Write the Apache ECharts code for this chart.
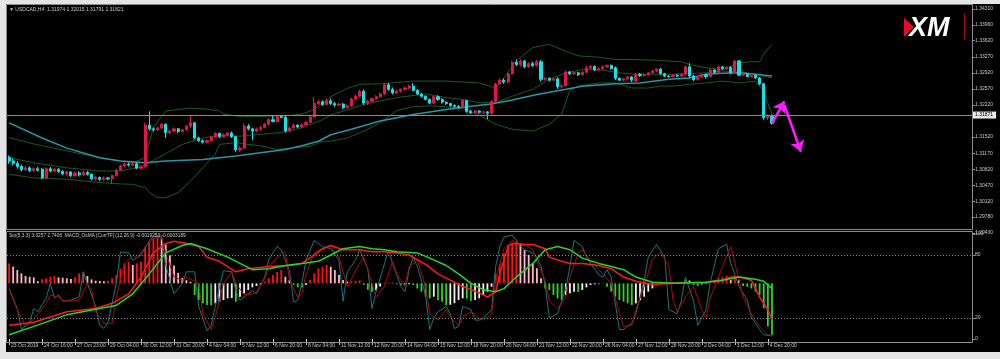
<!DOCTYPE html>
<html><head><meta charset="utf-8">
<script src="https://cdn.jsdelivr.net/npm/echarts@6/dist/echarts.min.js"></script>
<style>html,body{margin:0;padding:0;background:#000;}#c{width:1000px;height:359px;}</style>
</head><body><div id="c"></div>
<script>
// ---------- DATA ----------
const symbolTitle = '\u25BC USDCAD,H4  1.31974 1.32015 1.31791 1.31821';
const indicatorTitle = 'Sto(5,3,3) 3.0257 2.7406  MACD_OsMA [CurrTF] (12,26,9) -0.0019253 -0.0003189';
const dateLabels = ['23 Oct 2019','24 Oct 16:00','27 Oct 23:00','29 Oct 04:00','30 Oct 12:00','31 Oct 20:00','4 Nov 04:00','5 Nov 12:00','6 Nov 20:00','8 Nov 04:00','11 Nov 12:00','12 Nov 20:00','14 Nov 04:00','15 Nov 12:00','18 Nov 20:00','20 Nov 04:00','21 Nov 12:00','22 Nov 20:00','26 Nov 04:00','27 Nov 12:00','28 Nov 20:00','2 Dec 04:00','3 Dec 12:00','4 Dec 20:00'];
const priceTicks = [1.3431,1.3396,1.3362,1.3327,1.3292,1.3257,1.3222,1.3152,1.3117,1.3082,1.3047,1.3012,1.2978,1.2943];
const currentPrice = 1.31871;
const stochTicks = [0,20,80,100];
const stochLevels = [80,20];
// [open, close, low, high]
const candles = [
[1.3108,1.3100,1.3094,1.3112],[1.3100,1.3095,1.3090,1.3106],[1.3095,1.3088,1.3083,1.3100],[1.3088,1.3081,1.3077,1.3092],
[1.3081,1.3085,1.3078,1.3089],[1.3085,1.3079,1.3076,1.3088],[1.3079,1.3083,1.3076,1.3086],[1.3083,1.3080,1.3077,1.3087],
[1.3082,1.3063,1.3060,1.3085],[1.3063,1.3083,1.3060,1.3086],[1.3083,1.3078,1.3075,1.3087],[1.3078,1.3082,1.3075,1.3085],
[1.3082,1.3077,1.3074,1.3084],[1.3077,1.3072,1.3069,1.3080],[1.3072,1.3076,1.3068,1.3079],[1.3076,1.3068,1.3065,1.3078],
[1.3068,1.3074,1.3066,1.3077],[1.3074,1.3070,1.3066,1.3078],[1.3070,1.3075,1.3067,1.3079],[1.3075,1.3071,1.3068,1.3078],
[1.3071,1.3061,1.3058,1.3073],[1.3061,1.3064,1.3057,1.3067],[1.3064,1.3060,1.3056,1.3066],[1.3060,1.3063,1.3057,1.3066],
[1.3063,1.3061,1.3058,1.3065],[1.3061,1.3068,1.3050,1.3070],[1.3068,1.3080,1.3066,1.3083],[1.3080,1.3089,1.3078,1.3092],
[1.3089,1.3093,1.3086,1.3097],[1.3093,1.3091,1.3088,1.3096],[1.3091,1.3094,1.3089,1.3098],[1.3094,1.3084,1.3082,1.3097],
[1.3084,1.3088,1.3081,1.3090],[1.3088,1.3178,1.3085,1.3183],[1.3178,1.3170,1.3166,1.3208],[1.3170,1.3168,1.3164,1.3173],
[1.3168,1.3172,1.3165,1.3175],[1.3172,1.3180,1.3170,1.3182],[1.3180,1.3162,1.3150,1.3182],[1.3162,1.3165,1.3158,1.3168],
[1.3165,1.3170,1.3163,1.3173],[1.3170,1.3164,1.3160,1.3172],[1.3164,1.3168,1.3162,1.3170],[1.3168,1.3176,1.3166,1.3178],
[1.3176,1.3183,1.3172,1.3198],[1.3183,1.3150,1.3147,1.3185],[1.3150,1.3144,1.3141,1.3153],[1.3144,1.3141,1.3138,1.3147],
[1.3141,1.3144,1.3139,1.3147],[1.3144,1.3152,1.3142,1.3155],[1.3152,1.3160,1.3150,1.3163],[1.3160,1.3153,1.3150,1.3162],
[1.3153,1.3157,1.3151,1.3160],[1.3157,1.3161,1.3154,1.3163],[1.3161,1.3153,1.3150,1.3164],[1.3153,1.3124,1.3120,1.3155],
[1.3124,1.3128,1.3120,1.3132],[1.3128,1.3176,1.3125,1.3182],[1.3176,1.3170,1.3167,1.3180],[1.3170,1.3165,1.3145,1.3172],
[1.3165,1.3170,1.3162,1.3173],[1.3170,1.3173,1.3166,1.3176],[1.3173,1.3180,1.3171,1.3183],[1.3180,1.3190,1.3178,1.3193],
[1.3190,1.3186,1.3184,1.3198],[1.3186,1.3197,1.3184,1.3199],[1.3197,1.3195,1.3193,1.3200],[1.3195,1.3165,1.3162,1.3199],
[1.3165,1.3172,1.3163,1.3175],[1.3172,1.3178,1.3170,1.3181],[1.3178,1.3174,1.3172,1.3180],[1.3174,1.3179,1.3172,1.3182],
[1.3179,1.3184,1.3177,1.3186],[1.3184,1.3196,1.3182,1.3198],[1.3196,1.3225,1.3194,1.3240],[1.3225,1.3229,1.3222,1.3233],
[1.3229,1.3223,1.3220,1.3232],[1.3223,1.3231,1.3221,1.3236],[1.3231,1.3225,1.3222,1.3236],[1.3225,1.3222,1.3218,1.3228],
[1.3222,1.3224,1.3219,1.3227],[1.3224,1.3216,1.3213,1.3226],[1.3216,1.3220,1.3214,1.3223],[1.3220,1.3235,1.3218,1.3238],
[1.3235,1.3241,1.3232,1.3244],[1.3241,1.3252,1.3239,1.3255],[1.3252,1.3226,1.3222,1.3256],[1.3226,1.3230,1.3222,1.3233],
[1.3230,1.3236,1.3228,1.3238],[1.3236,1.3240,1.3234,1.3243],[1.3240,1.3246,1.3238,1.3249],[1.3246,1.3266,1.3244,1.3270],
[1.3266,1.3256,1.3253,1.3270],[1.3256,1.3248,1.3245,1.3260],[1.3248,1.3252,1.3246,1.3255],[1.3252,1.3256,1.3249,1.3258],
[1.3256,1.3259,1.3254,1.3262],[1.3259,1.3263,1.3257,1.3266],[1.3263,1.3254,1.3252,1.3270],[1.3254,1.3246,1.3244,1.3256],
[1.3246,1.3241,1.3238,1.3248],[1.3241,1.3234,1.3232,1.3243],[1.3234,1.3226,1.3224,1.3236],[1.3226,1.3240,1.3224,1.3242],
[1.3240,1.3234,1.3231,1.3243],[1.3234,1.3228,1.3225,1.3237],[1.3228,1.3225,1.3222,1.3230],[1.3225,1.3221,1.3218,1.3227],
[1.3221,1.3219,1.3216,1.3223],[1.3219,1.3217,1.3215,1.3222],[1.3217,1.3232,1.3215,1.3234],[1.3232,1.3208,1.3205,1.3233],
[1.3208,1.3205,1.3202,1.3212],[1.3205,1.3209,1.3203,1.3211],[1.3209,1.3206,1.3203,1.3210],[1.3206,1.3207,1.3203,1.3209],
[1.3207,1.3204,1.3191,1.3209],[1.3204,1.3230,1.3202,1.3232],[1.3230,1.3268,1.3228,1.3270],[1.3268,1.3276,1.3265,1.3280],
[1.3276,1.3272,1.3268,1.3280],[1.3272,1.3290,1.3270,1.3293],[1.3290,1.3315,1.3288,1.3318],[1.3315,1.3310,1.3307,1.3321],
[1.3310,1.3318,1.3306,1.3322],[1.3318,1.3305,1.3302,1.3320],[1.3305,1.3312,1.3303,1.3315],[1.3312,1.3308,1.3305,1.3316],
[1.3308,1.3316,1.3306,1.3320],[1.3316,1.3278,1.3273,1.3320],[1.3278,1.3280,1.3275,1.3283],[1.3280,1.3276,1.3273,1.3282],
[1.3276,1.3279,1.3274,1.3281],[1.3279,1.3262,1.3257,1.3282],[1.3262,1.3264,1.3258,1.3267],[1.3264,1.3294,1.3262,1.3297],
[1.3294,1.3290,1.3287,1.3296],[1.3290,1.3292,1.3288,1.3295],[1.3292,1.3288,1.3285,1.3294],[1.3288,1.3293,1.3286,1.3296],
[1.3293,1.3303,1.3291,1.3308],[1.3303,1.3306,1.3300,1.3309],[1.3306,1.3298,1.3296,1.3308],[1.3298,1.3301,1.3295,1.3304],
[1.3301,1.3305,1.3299,1.3308],[1.3305,1.3308,1.3303,1.3310],[1.3308,1.3301,1.3299,1.3310],[1.3303,1.3280,1.3276,1.3306],
[1.3280,1.3276,1.3274,1.3282],[1.3276,1.3279,1.3274,1.3281],[1.3279,1.3283,1.3277,1.3285],[1.3283,1.3276,1.3272,1.3285],
[1.3274,1.3289,1.3272,1.3291],[1.3289,1.3286,1.3283,1.3292],[1.3286,1.3288,1.3284,1.3291],[1.3288,1.3292,1.3286,1.3294],
[1.3292,1.3296,1.3290,1.3298],[1.3296,1.3300,1.3293,1.3302],[1.3300,1.3290,1.3288,1.3303],[1.3290,1.3285,1.3283,1.3292],
[1.3285,1.3284,1.3281,1.3287],[1.3284,1.3287,1.3282,1.3289],[1.3287,1.3285,1.3283,1.3289],[1.3285,1.3289,1.3283,1.3291],
[1.3289,1.3305,1.3287,1.3308],[1.3305,1.3285,1.3280,1.3313],[1.3285,1.3277,1.3274,1.3288],[1.3277,1.3283,1.3275,1.3285],
[1.3283,1.3288,1.3281,1.3291],[1.3288,1.3284,1.3279,1.3290],[1.3284,1.3298,1.3282,1.3301],[1.3298,1.3293,1.3290,1.3300],
[1.3293,1.3305,1.3291,1.3308],[1.3305,1.3301,1.3299,1.3307],[1.3301,1.3304,1.3298,1.3306],[1.3304,1.3292,1.3289,1.3306],
[1.3292,1.3318,1.3290,1.3320],[1.3318,1.3287,1.3285,1.3320],[1.3287,1.3289,1.3285,1.3292],[1.3289,1.3284,1.3283,1.3292],
[1.3284,1.3287,1.3282,1.3289],[1.3287,1.3281,1.3278,1.3289],[1.3281,1.3268,1.3265,1.3283],[1.3268,1.3194,1.3190,1.3270],
[1.3194,1.3198,1.3189,1.3201],[1.31974,1.31821,1.31791,1.32015]
];
// Bollinger bands and moving average, read as [bar, price]
const bbUpper = [[0,1.3151],[6,1.3137],[14,1.3122],[22,1.3107],[27,1.3100],[30,1.3096],[33,1.3107],[35,1.3172],[38,1.3209],[41,1.3212],[44,1.3215],[48,1.3213],[51,1.3209],[52,1.3202],[55,1.3198],[57,1.3197],[61,1.3197],[65,1.3198],[68,1.3199],[71,1.3202],[74,1.3212],[76,1.3225],[78,1.3240],[82,1.3258],[85,1.3267],[90,1.3268],[98,1.3274],[106,1.3274],[114,1.3270],[118,1.3259],[120,1.3281],[123,1.3318],[127,1.3347],[131,1.3354],[135,1.3339],[138,1.3329],[143,1.3326],[147,1.3321],[151,1.3321],[158,1.3319],[163,1.3316],[165,1.3310],[169,1.3303],[173,1.3299],[177,1.3314],[180,1.3316],[182,1.3316],[183,1.3333],[184,1.3344],[185,1.3354]];
const bbMiddle = [[0,1.3107],[6,1.3096],[14,1.3085],[22,1.3078],[27,1.3078],[32,1.3087],[37,1.3111],[42,1.3136],[47,1.3150],[51,1.3156],[56,1.3154],[61,1.3158],[66,1.3162],[71,1.3172],[76,1.3190],[78,1.3200],[86,1.3223],[94,1.3238],[101,1.3246],[106,1.3238],[110,1.3234],[114,1.3227],[118,1.3227],[122,1.3241],[127,1.3256],[131,1.3278],[135,1.3292],[139,1.3299],[143,1.3299],[148,1.3292],[152,1.3289],[158,1.3289],[161,1.3289],[169,1.3292],[173,1.3296],[177,1.3294],[181,1.3289],[185,1.3281]];
const bbLower = [[0,1.3071],[6,1.3063],[14,1.3060],[22,1.3053],[27,1.3050],[30,1.3049],[33,1.3042],[34,1.3031],[36,1.3020],[38,1.3020],[41,1.3031],[44,1.3056],[47,1.3085],[50,1.3115],[51,1.3136],[55,1.3140],[58,1.3136],[61,1.3133],[65,1.3125],[69,1.3129],[73,1.3132],[76,1.3143],[78,1.3143],[82,1.3150],[86,1.3165],[90,1.3183],[94,1.3210],[98,1.3218],[102,1.3220],[106,1.3218],[110,1.3214],[114,1.3200],[118,1.3180],[122,1.3169],[127,1.3165],[131,1.3180],[134,1.3202],[136,1.3254],[138,1.3263],[143,1.3270],[147,1.3270],[151,1.3259],[155,1.3259],[158,1.3263],[161,1.3263],[165,1.3267],[169,1.3270],[173,1.3274],[177,1.3270],[181,1.3274],[183,1.3252],[184,1.3226],[185,1.3202]];
const maLine = [[0,1.3183],[8,1.3150],[14,1.3128],[22,1.3107],[27,1.3100],[33,1.3096],[38,1.3100],[47,1.3103],[55,1.3111],[61,1.3118],[67,1.3125],[71,1.3133],[75,1.3143],[78,1.3157],[83,1.3169],[90,1.3187],[98,1.3201],[106,1.3212],[112,1.3219],[117,1.3224],[122,1.3233],[128,1.3245],[135,1.3256],[139,1.3263],[147,1.3268],[153,1.3270],[160,1.3278],[165,1.3281],[169,1.3289],[173,1.3291],[177,1.3292],[181,1.3289],[185,1.3285]];
// Forecast arrows [bar, price]
const arrowUp = [[185,1.3182],[188,1.3230]];
const arrowDown = [[188,1.3222],[192,1.3120]];
// Stochastic (5,3,3) [bar, value]
const stochK = [[0,48],[2,29],[3,9],[5,16],[6,29],[7,26],[9,39],[10,53],[11,39],[12,42],[13,36],[15,37],[17,40],[18,64],[19,53],[21,31],[22,13],[23,10],[24,16],[26,53],[27,83],[29,82],[30,75],[32,80],[34,93],[35,98],[37,98],[38,70],[40,43],[42,53],[43,64],[45,64],[46,31],[48,8],[49,13],[51,49],[52,65],[54,64],[55,46],[56,37],[57,40],[59,46],[60,43],[62,59],[63,76],[65,88],[66,85],[68,65],[69,35],[70,37],[71,53],[72,75],[74,94],[76,88],[78,86],[80,75],[81,36],[82,64],[84,75],[85,85],[87,67],[88,29],[89,45],[91,71],[92,85],[93,72],[95,50],[96,45],[97,66],[98,78],[99,69],[101,42],[102,9],[103,20],[104,26],[106,31],[107,24],[108,10],[109,12],[110,31],[112,28],[113,18],[114,18],[115,20],[117,28],[118,69],[119,88],[120,97],[122,99],[123,94],[124,88],[125,85],[127,82],[128,78],[129,69],[130,51],[131,20],[133,24],[134,36],[135,48],[136,69],[137,94],[139,88],[140,78],[141,72],[143,61],[144,59],[145,66],[146,59],[148,9],[149,9],[150,12],[151,15],[152,24],[154,56],[155,78],[157,90],[159,78],[160,28],[162,24],[163,36],[164,59],[166,36],[167,13],[169,28],[170,53],[172,86],[174,90],[175,72],[177,50],[179,37],[180,21],[182,9],[183,4],[185,3.03]];
const stochD = [[0,47],[2,28],[4,12],[5,15],[7,24],[9,34],[10,42],[12,40],[13,37],[15,36],[17,37],[19,53],[20,47],[21,26],[23,15],[25,15],[26,40],[28,72],[30,80],[31,77],[33,88],[35,96],[37,97],[38,82],[40,59],[42,56],[43,59],[46,53],[47,24],[49,9],[50,21],[52,53],[54,64],[55,53],[57,42],[59,43],[60,45],[62,58],[63,69],[66,82],[67,82],[68,56],[70,40],[71,43],[72,62],[74,82],[76,86],[78,88],[80,78],[82,50],[85,72],[86,78],[88,53],[89,40],[91,50],[93,74],[94,62],[96,50],[97,69],[99,75],[101,50],[102,24],[104,18],[106,28],[107,21],[109,13],[110,21],[112,26],[114,20],[115,18],[117,24],[118,56],[120,86],[122,94],[123,91],[125,90],[127,85],[128,74],[130,56],[131,36],[133,29],[135,40],[136,59],[138,82],[139,85],[141,74],[143,66],[144,62],[146,53],[148,24],[149,12],[151,13],[152,28],[154,50],[156,76],[158,83],[160,69],[161,37],[162,26],[164,40],[166,50],[168,28],[169,20],[170,39],[173,69],[175,88],[176,72],[178,40],[180,24],[182,12],[184,4],[185,2.74]];
// MACD OsMA histogram (display units) and its two lines
const osma = [19,16,12.7,9.5,7,6.3,5.7,2,3.8,4.8, 6.3,7,5.7,5.4,4.8,4.1,5.7,9.5,11,7, 3.8,2.5,2.3,1.9,2.5,4.8,7.9,14,19,20.6, 17.5,19,20.6,34,40,43,45,43,37,27, 17,10,5,3,1.5,-11,-15.9,-19,-20.6,-20.8, -19,-17.5,-15.9,-14.3,-14,-17.5,-12.7,-9.5,-6.3,-3.8, -2.5,-1.3,1.6,4.8,7.9,11,12.7,6.3,3.2,-1.6, -3.8,-4,-1.6,3.2,9.5,14.3,15.9,17.5,15.9,12.7, 7.9,3.2,1.6,2.0,2.4,2.8,-1.5,-6,-8,-6.5, -3,0.6,0.8,0.5,-1,-1.5,-1.2,-0.9,-1.5,-4.8, -8,-12.7,-14.3,-12.7,-15.9,-17.5,-20.6,-20.4,-19,-15.9, -14.3,-14.5,-16.5,-15.9,-14.3,-11,-7.9,-3.2,9.5,19, 28.6,36.5,38,40,38,31.7,27,19,14.3,4.8, -4.8,-6.3,-11,-14.3,-15.9,-11,-9.5,-7.9,-8.1,-6.3, -3.8,-1.6,-1.0,-1.0,0.5,-3.2,-7.9,-12.7,-15.9,-17.5, -19,-20.6,-19,-16,-12.7,-7.9,-4.8,0.6,1.6,1.2, 0.8,1.0,0.8,1.6,3.2,2.8,-1.6,-2.5,-1.0,-0.3, 1.6,3.2,4.8,6.3,7.3,3.2,6.3,3.2,-2.5,-3.2, -4.8,-7.9,-11,-23.8,-41,-49];
const macdMain = [[0,-40],[6,-37],[14,-27],[21,-24],[25,-19],[29,-10],[32,6],[35,29],[38,38],[40,40],[43,38],[46,35],[48,25],[51,21],[55,11],[58,14],[63,16],[68,17],[71,19],[74,27],[76,33],[78,36],[81,32],[85,32],[88,30],[91,30],[94,29],[97,27],[101,18],[104,9],[107,3],[110,-3],[114,-9],[116,-13],[118,-8],[119,9],[121,35],[122,38],[125,37],[127,37],[130,33],[131,25],[134,21],[136,19],[139,19],[143,17],[146,14],[149,6],[152,2],[156,-1],[161,0],[169,1],[173,3],[175,6],[177,6],[180,3],[182,-13],[184,-25],[185,-35]];
const macdSignal = [[0,-49],[6,-41],[14,-30],[22,-24],[26,-21],[30,-10],[34,9],[38,29],[42,36],[44,38],[48,33],[53,25],[56,19],[59,13],[63,14],[67,17],[71,19],[75,21],[78,27],[81,33],[85,35],[88,33],[91,32],[94,30],[99,29],[102,24],[106,17],[109,9],[112,0],[115,-6],[118,-8],[120,-5],[123,6],[127,19],[130,32],[133,35],[136,32],[139,24],[143,19],[146,16],[149,13],[152,6],[156,1],[161,0],[169,1],[173,3],[177,6],[181,4],[183,2],[185,-5]];
const totalSlots = 234; // visible bar slots incl. empty future space

// ---------- CHART ----------
const slots = Array.from({length: totalSlots}, (_, i) => String(i));
const FONT = '"Liberation Sans", Arial, sans-serif';
const TXT = '#c8c8c8';
const FRAME = '#8c8c8c';
const histColors = {up:'#ff1010', upFall:'#ffb8c8', dn:'#2ed12e', dnRise:'#f2f2f2'};
const osmaData = osma.map((v, i) => {
  const prev = i > 0 ? osma[i-1] : v;
  const col = v >= 0 ? (v >= prev ? histColors.up : histColors.upFall) : (v <= prev ? histColors.dn : histColors.dnRise);
  return {value: v, itemStyle: {color: col}};
});
const lineS = (name, data, color, width, xi, yi, extra) => Object.assign({
  name, type: 'line', data, xAxisIndex: xi, yAxisIndex: yi, symbol: 'none',
  lineStyle: {color, width}, silent: true, z: 3
}, extra || {});
const arrowLine = (pts) => [
  {coord: pts[0], symbol: 'none'},
  {coord: pts[1], symbol: 'arrow', symbolSize: 11}
];

const chart = echarts.init(document.getElementById('c'), null, {renderer: 'canvas'});
chart.setOption({
  animation: false,
  backgroundColor: '#000',
  grid: [
    {left: 7, width: 965, top: 5, height: 228},
    {left: 7, width: 965, top: 234, height: 105}
  ],
  xAxis: [
    {type: 'category', gridIndex: 0, data: slots, boundaryGap: true,
     axisLine: {show: false}, axisTick: {show: false}, axisLabel: {show: false}, splitLine: {show: false}},
    {type: 'category', gridIndex: 1, data: slots, boundaryGap: true, offset: 3,
     axisLine: {show: false},
     axisTick: {show: true, alignWithLabel: true, length: 6, lineStyle: {color: TXT, width: 1},
       interval: (i) => i % 8 === 0 && i / 8 < dateLabels.length},
     axisLabel: {show: true, color: TXT, fontSize: 5, fontFamily: FONT, align: 'left', margin: 1, padding: [0,0,0,2],
       interval: (i) => i % 8 === 0 && i / 8 < dateLabels.length,
       formatter: (v, i) => (i % 8 === 0 && i / 8 < dateLabels.length) ? dateLabels[i / 8] : ''},
     splitLine: {show: false}}
  ],
  yAxis: [
    {type: 'value', gridIndex: 0, position: 'right', min: 1.2943, max: 1.34398, scale: true,
     axisLine: {show: false}, splitLine: {show: false},
     axisTick: {show: true, length: 3, customValues: priceTicks, lineStyle: {color: FRAME}},
     axisLabel: {show: true, customValues: priceTicks, color: TXT, fontSize: 5, fontFamily: FONT, margin: 3,
       formatter: (v) => v.toFixed(5)}},
    {type: 'value', gridIndex: 1, position: 'right', min: 0, max: 100,
     axisLine: {show: false}, splitLine: {show: false},
     axisTick: {show: true, length: 3, customValues: stochTicks, lineStyle: {color: FRAME}},
     axisLabel: {show: true, customValues: stochTicks, color: TXT, fontSize: 5, fontFamily: FONT, margin: 3}},
    {type: 'value', gridIndex: 1, min: -53, max: 47, show: false}
  ],
  series: [
    lineS('BB upper', bbUpper, '#1c5a1c', 1, 0, 0),
    lineS('BB middle', bbMiddle, '#1c5a1c', 1, 0, 0),
    lineS('BB lower', bbLower, '#1c5a1c', 1, 0, 0, {
      markLine: {silent: true, symbol: 'none', animation: false,
        data: [{yAxis: currentPrice, lineStyle: {color: '#8c8c8c', width: 1, type: 'solid'},
          label: {show: true, position: 'end', distance: 1, formatter: currentPrice.toFixed(5), color: '#000',
            backgroundColor: '#e8e8e8', padding: [1, 3, 1, 2], fontSize: 5, fontFamily: FONT}}]}
    }),
    lineS('MA', maLine, '#2796a6', 1.5, 0, 0),
    {name: 'USDCAD', type: 'candlestick', xAxisIndex: 0, yAxisIndex: 0, data: candles, barWidth: 2.6, silent: true, z: 4,
     itemStyle: {color: '#e3164a', color0: '#14e4ea', borderColor: '#e3164a', borderColor0: '#14e4ea', borderWidth: 1},
     markLine: {silent: true, symbol: ['none', 'arrow'], symbolSize: 11, animation: false, z: 10,
       lineStyle: {color: '#ff1cff', width: 2.5, type: 'solid'},
       itemStyle: {color: '#ff1cff'},
       label: {show: false},
       data: [arrowLine(arrowUp), arrowLine(arrowDown)]}},
    {name: 'OsMA', type: 'bar', xAxisIndex: 1, yAxisIndex: 2, data: osmaData, barWidth: 1.8, silent: true, z: 2},
    lineS('Stoch %K', stochK, '#1d7478', 1, 1, 1, {
      markLine: {silent: true, symbol: 'none', animation: false, label: {show: false},
        lineStyle: {color: '#8a8a8a', width: 1, type: [1, 2]},
        data: stochLevels.map(v => ({yAxis: v}))}
    }),
    lineS('Stoch %D', stochD, '#b00808', 1, 1, 1),
    lineS('MACD', macdMain, '#ff1a1a', 1.5, 1, 2),
    lineS('Signal', macdSignal, '#26d626', 1.5, 1, 2)
  ],
  graphic: [
    {type: 'rect', silent: true, z: 100, shape: {x: 0, y: 0, width: 1000, height: 4}, style: {fill: '#e4e4e4'}},
    {type: 'rect', silent: true, z: 100, shape: {x: 0, y: 0, width: 6, height: 359}, style: {fill: '#e4e4e4'}},
    {type: 'rect', silent: true, z: 100, shape: {x: 0, y: 352, width: 1000, height: 7}, style: {fill: '#e4e4e4'}},
    {type: 'rect', silent: true, z: 90, shape: {x: 6.5, y: 4.5, width: 966, height: 225}, style: {fill: 'none', stroke: FRAME, lineWidth: 1}},
    {type: 'rect', silent: true, z: 90, shape: {x: 6.5, y: 231.5, width: 966, height: 111}, style: {fill: 'none', stroke: FRAME, lineWidth: 1}},
    {type: 'text', silent: true, z: 95, x: 9, y: 7, style: {text: symbolTitle, fill: TXT, font: '5px ' + FONT}},
    {type: 'text', silent: true, z: 95, x: 9, y: 233, style: {text: indicatorTitle, fill: TXT, font: '4.8px ' + FONT}},
    {type: 'polygon', silent: true, z: 95, shape: {points: [[904, 18], [914, 27], [904, 37]]}, style: {fill: '#e0102c'}},
    {type: 'text', silent: true, z: 95, x: 909, y: 15, style: {text: 'XM', fill: '#ffffff', font: 'italic bold 27px ' + FONT}},
    {type: 'line', silent: true, z: 95, shape: {x1: 964.5, y1: 13, x2: 964.5, y2: 40}, style: {stroke: '#b0001a', lineWidth: 1}}
  ]
});
</script>
</body></html>
